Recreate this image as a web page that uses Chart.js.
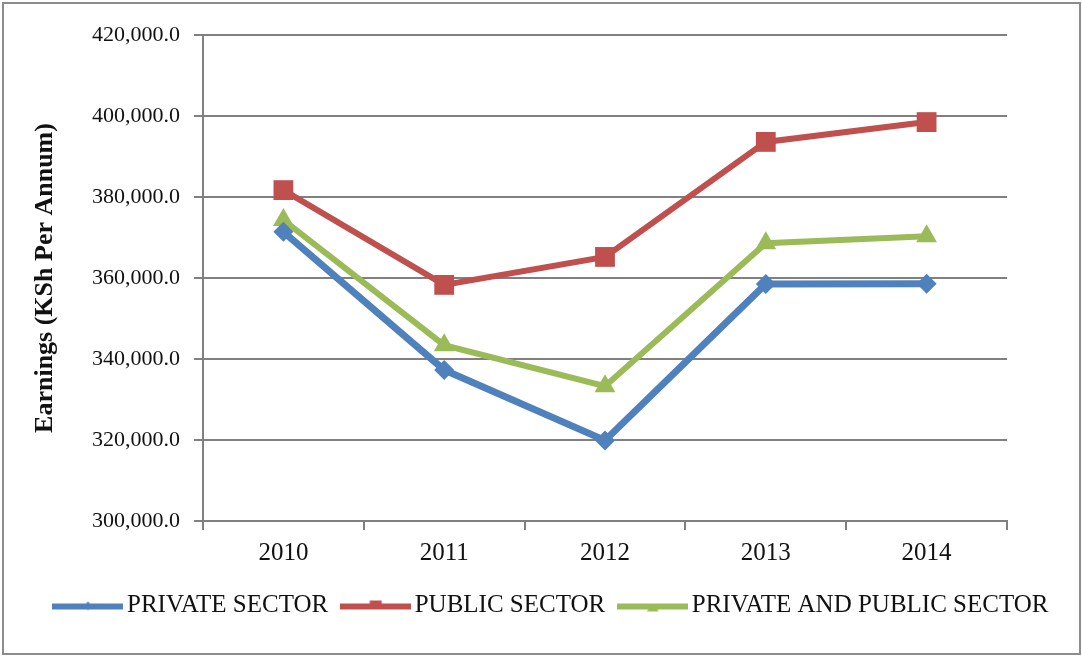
<!DOCTYPE html>
<html>
<head>
<meta charset="utf-8">
<script src="https://cdn.jsdelivr.net/npm/chart.js@4/dist/chart.umd.min.js"></script>
<style>
  html, body { margin: 0; padding: 0; background: #fff; }
  #wrap { width: 1082px; height: 656px; position: relative; }
</style>
</head>
<body>
<div id="wrap"><canvas id="chart" width="1082" height="656"></canvas></div>
<script>
const years = ['2010', '2011', '2012', '2013', '2014'];
const privateSector = [371400, 337300, 319900, 358500, 358600];
const publicSector = [381700, 358300, 365200, 393600, 398500];
const combinedSector = [374300, 343400, 333300, 368600, 370300];

const BLUE = '#4f81bd';
const RED = '#c0504d';
const GREEN = '#9bbb59';
const GRID = '#808080';
const SERIF = '"Liberation Serif", "DejaVu Serif", serif';

// legend swatch: long thick line with the marker in the middle
function legendSwatch(color, marker) {
  const c = document.createElement('canvas');
  c.width = 71; c.height = 16;
  const g = c.getContext('2d');
  g.fillStyle = color;
  g.fillRect(0, 6, 71, 6);
  const cx = 35.5, cy = 8;
  g.beginPath();
  if (marker === 'rect') {
    g.rect(cx - 6, cy - 5, 12, 8);
  } else if (marker === 'triangle') {
    g.moveTo(cx, cy - 2); g.lineTo(cx + 6, cy + 6); g.lineTo(cx - 6, cy + 6);
  } else {
    g.moveTo(cx, cy - 4); g.lineTo(cx + 4, cy); g.lineTo(cx, cy + 5); g.lineTo(cx - 4, cy);
  }
  g.closePath();
  g.fill();
  return c;
}

const frame = {
  id: 'frame',
  beforeDraw(chart) {
    const { ctx, width, height } = chart;
    ctx.save();
    ctx.fillStyle = '#fff';
    ctx.fillRect(0, 0, width, height);
    ctx.restore();
  },
  afterDraw(chart) {
    const { ctx, width, height } = chart;
    ctx.save();
    ctx.strokeStyle = '#8c8c8c';
    ctx.lineWidth = 2;
    ctx.strokeRect(3, 3, width - 5, height - 5);
    ctx.restore();
  },
};

function series(label, data, color, style, radius, width, swatch) {
  return {
    label,
    data,
    borderColor: color,
    backgroundColor: color,
    borderWidth: width,
    pointStyle: style,
    pointRadius: radius,
    pointBorderWidth: 0,
    pointBackgroundColor: color,
    tension: 0,
    fill: false,
    legendSwatch: swatch,
  };
}

new Chart(document.getElementById('chart'), {
  type: 'line',
  data: {
    labels: years,
    datasets: [
      series('PRIVATE SECTOR', privateSector, BLUE, 'rectRot', 10, 7, legendSwatch(BLUE, 'diamond')),
      series('PUBLIC SECTOR', publicSector, RED, 'rect', 14, 6, legendSwatch(RED, 'rect')),
      series('PRIVATE AND PUBLIC SECTOR', combinedSector, GREEN, 'triangle', 12, 6, legendSwatch(GREEN, 'triangle')),
    ],
  },
  options: {
    responsive: false,
    animation: false,
    devicePixelRatio: 1,
    layout: { padding: { left: 28, right: 0, top: 35, bottom: 28 } },
    plugins: {
      legend: {
        position: 'bottom',
        labels: {
          usePointStyle: true,
          pointStyleWidth: 53,
          padding: 21,
          color: '#111',
          font: { family: SERIF, size: 25 },
          generateLabels(chart) {
            return chart.data.datasets.map((ds, i) => ({
              text: ds.label,
              fillStyle: ds.borderColor,
              strokeStyle: ds.borderColor,
              lineWidth: 0,
              pointStyle: ds.legendSwatch,
              hidden: false,
              datasetIndex: i,
              fontColor: '#111',
            }));
          },
        },
      },
      tooltip: { enabled: false },
    },
    scales: {
      x: {
        offset: true,
        afterFit(scale) { scale.height = 51; },
        grid: { offset: true, drawOnChartArea: false, drawTicks: true, tickLength: 9, color: GRID, lineWidth: 2 },
        border: { display: true, color: GRID, width: 2 },
        ticks: { color: '#111', font: { family: SERIF, size: 25 }, padding: 8 },
      },
      y: {
        min: 300000,
        max: 420000,
        afterFit(scale) { scale.width = 175; },
        grid: { color: GRID, lineWidth: 2, tickLength: 9 },
        border: { display: true, color: GRID, width: 2 },
        title: {
          display: true,
          text: 'Earnings (KSh Per Annum)',
          color: '#111',
          font: { family: SERIF, size: 26, weight: 'bold' },
          padding: { top: 2, bottom: 0 },
        },
        ticks: {
          stepSize: 20000,
          color: '#111',
          padding: 14,
          font: { family: SERIF, size: 22 },
          callback: v => v.toLocaleString('en-US', { minimumFractionDigits: 1, maximumFractionDigits: 1 }),
        },
      },
      // empty box on the right so the plot stops short of the frame while the legend keeps full width
      yRight: {
        position: 'right',
        display: true,
        afterFit(scale) { scale.width = 75; },
        grid: { display: false, drawTicks: false },
        border: { display: false },
        ticks: { display: false },
      },
    },
  },
  plugins: [frame],
});
</script>
</body>
</html>
